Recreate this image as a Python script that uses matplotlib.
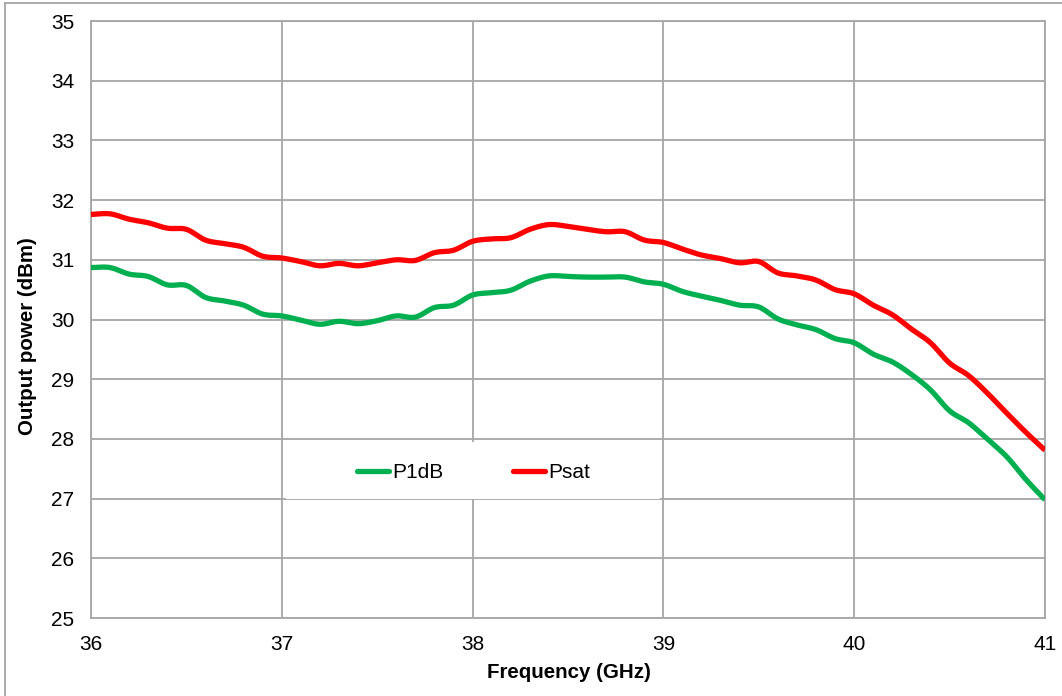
import numpy as np
import matplotlib
matplotlib.use("Agg")
import matplotlib.pyplot as plt
from matplotlib.lines import Line2D
from matplotlib.patches import Rectangle

plt.rcParams['font.family'] = ['Liberation Sans', 'DejaVu Sans']

# Measured output power versus frequency
freq_ghz = np.round(np.arange(36.0, 41.0001, 0.1), 1)

psat_dbm = [31.76, 31.77, 31.68, 31.62, 31.53, 31.51, 31.33, 31.27, 31.21, 31.06,
            31.03, 30.97, 30.90, 30.94, 30.90, 30.95, 31.00, 30.99, 31.12, 31.16,
            31.31, 31.35, 31.37, 31.51, 31.59, 31.56, 31.51, 31.47, 31.47, 31.33,
            31.29, 31.18, 31.08, 31.02, 30.95, 30.97, 30.78, 30.73, 30.66, 30.50,
            30.43, 30.24, 30.08, 29.84, 29.61, 29.27, 29.06, 28.76, 28.43, 28.11,
            27.81]

p1db_dbm = [30.87, 30.87, 30.76, 30.72, 30.58, 30.57, 30.37, 30.31, 30.24, 30.09,
            30.06, 29.99, 29.92, 29.97, 29.93, 29.98, 30.06, 30.04, 30.20, 30.24,
            30.41, 30.45, 30.49, 30.64, 30.73, 30.72, 30.71, 30.71, 30.71, 30.63,
            30.59, 30.47, 30.39, 30.32, 30.24, 30.21, 30.01, 29.91, 29.83, 29.68,
            29.61, 29.42, 29.29, 29.08, 28.82, 28.47, 28.27, 27.99, 27.70, 27.32,
            26.98]

series_names = ["P1dB", "Psat"]
series_colors = ["#00B050", "#FF0000"]

x_ticks = [36, 37, 38, 39, 40, 41]
y_ticks = list(range(25, 36))


def smooth_curve(x, y, n=12):
    """Catmull-Rom spline through the measured points."""
    x = np.asarray(x, float)
    y = np.asarray(y, float)
    px = np.concatenate([[2 * x[0] - x[1]], x, [2 * x[-1] - x[-2]]])
    py = np.concatenate([[2 * y[0] - y[1]], y, [2 * y[-1] - y[-2]]])
    t = np.linspace(0, 1, n, endpoint=False)
    xs, ys = [], []
    for i in range(1, len(px) - 2):
        for arr, out in ((px, xs), (py, ys)):
            p0, p1, p2, p3 = arr[i - 1], arr[i], arr[i + 1], arr[i + 2]
            out.append(0.5 * ((2 * p1) + (-p0 + p2) * t
                              + (2 * p0 - 5 * p1 + 4 * p2 - p3) * t ** 2
                              + (-p0 + 3 * p1 - 3 * p2 + p3) * t ** 3))
    xs = np.concatenate(xs + [[x[-1]]])
    ys = np.concatenate(ys + [[y[-1]]])
    return xs, ys


fig = plt.figure(figsize=(10.62, 6.96), dpi=100)
ax = fig.add_axes([91 / 1062, 1 - 618 / 696, 954 / 1062, 597 / 696])

grid_color = "#A6A6A6"
for name, vals, col in zip(series_names, [p1db_dbm, psat_dbm], series_colors):
    sx, sy = smooth_curve(freq_ghz, vals)
    ax.plot(sx, sy, color=col, lw=3.8, solid_capstyle='butt', label=name, zorder=3)

ax.set_xlim(36, 41)
ax.set_ylim(25, 35)
ax.set_xticks(x_ticks)
ax.set_yticks(y_ticks)
ax.tick_params(length=0, labelsize=15, pad=12, colors="black")
ax.grid(True, color=grid_color, lw=1.3)
ax.set_axisbelow(True)
for s in ax.spines.values():
    s.set_color(grid_color)
    s.set_linewidth(1.3)

ax.set_xlabel("Frequency (GHz)", fontsize=14.8, fontweight='bold')
ax.set_ylabel("Output power (dBm)", fontsize=14.8, fontweight='bold')
ax.xaxis.set_label_coords(0.5015, -0.0755)
ax.yaxis.set_label_coords(-0.0566, 0.472)

# White legend area
ax.add_patch(Rectangle((0.2039, 0.2), 0.393, 0.094, transform=ax.transAxes,
                       facecolor="white", edgecolor="none", zorder=2))

handles = [Line2D([], [], color=c, lw=3.8, solid_capstyle='round') for c in series_colors]
leg = ax.legend(handles, series_names, loc='center', bbox_to_anchor=(0.401, 0.243),
                ncol=2, fontsize=15, frameon=False,
                handlelength=1.55, handletextpad=0.15, columnspacing=3.3,
                borderpad=0.5, borderaxespad=0)
leg.set_zorder(4)

# Outer chart border
fig.add_artist(Line2D([5 / 1062, 5 / 1062], [0, 1 - 3 / 696], transform=fig.transFigure,
                      color="#A6A6A6", lw=1.3))
fig.add_artist(Line2D([5 / 1062, 1], [1 - 3 / 696, 1 - 3 / 696], transform=fig.transFigure,
                      color="#A6A6A6", lw=1.3))

fig.savefig("out.png", dpi=100, facecolor="white")
